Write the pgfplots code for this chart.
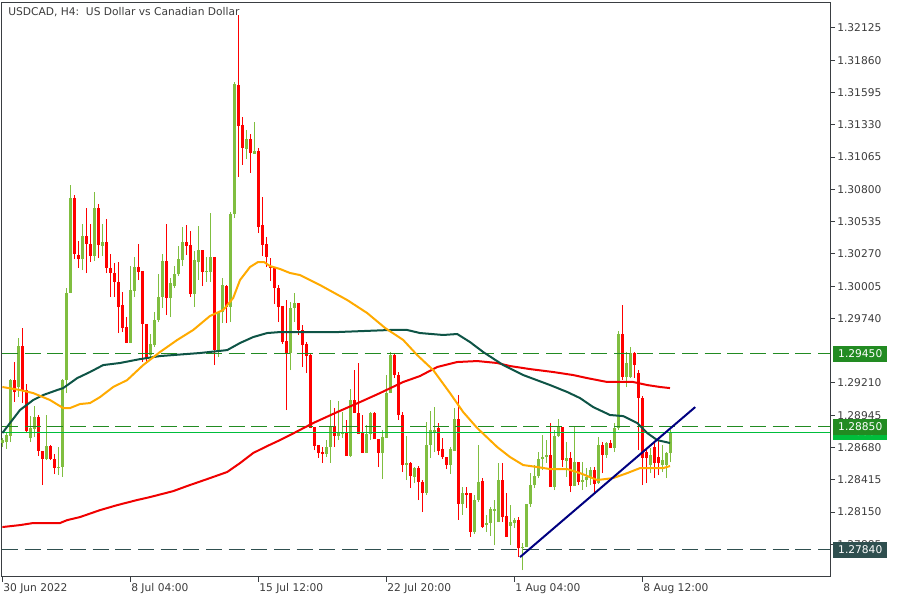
\documentclass[border=0pt]{standalone}
\usepackage{pgfplots}
\pgfplotsset{compat=1.18}
\usepackage{pgfplotstable}
\usepackage{fontspec}
\setmainfont{DejaVu Sans}

\definecolor{framegray}{RGB}{58,62,66}
\definecolor{labelgray}{RGB}{60,60,60}
\definecolor{candup}{RGB}{128,190,64}
\definecolor{canddown}{RGB}{255,0,0}
\definecolor{maorange}{RGB}{255,170,0}
\definecolor{mateal}{RGB}{14,84,70}
\definecolor{mared}{RGB}{240,0,0}
\definecolor{lvlgreen}{RGB}{34,139,34}
\definecolor{lvldark}{RGB}{47,79,79}
\definecolor{pricegreen}{RGB}{0,190,60}
\definecolor{trendnavy}{RGB}{0,0,128}

% H4 candles, bar index i (0 = 30 Jun 2022), open high low close
\pgfplotstableread{
i o h l c
0 1.28717 1.28758 1.28684 1.28741
1 1.28725 1.28799 1.28668 1.28782
2 1.28774 1.29242 1.28725 1.29234
4 1.29176 1.29579 1.29094 1.29513
7 1.28758 1.28939 1.28725 1.28840
8 1.28832 1.29021 1.28766 1.28930
11 1.28585 1.28947 1.28577 1.28692
14 1.28512 1.28684 1.28454 1.28520
15 1.28520 1.29242 1.28438 1.29234
16 1.29234 1.29989 1.29127 1.29948
17 1.29948 1.30836 1.29948 1.30729
20 1.30227 1.30515 1.30137 1.30416
23 1.30252 1.30778 1.30211 1.30646
25 1.30334 1.30515 1.30252 1.30367
32 1.29538 1.30170 1.29538 1.29973
33 1.29965 1.30244 1.29915 1.30162
37 1.29439 1.29612 1.29415 1.29530
38 1.29521 1.29792 1.29505 1.29727
39 1.29727 1.30104 1.29710 1.29915
40 1.29915 1.30269 1.29825 1.30211
42 1.29907 1.30071 1.29751 1.30030
43 1.30006 1.30170 1.29989 1.30104
44 1.30104 1.30334 1.30088 1.30227
45 1.30219 1.30490 1.30170 1.30367
48 1.29940 1.30293 1.29834 1.30219
49 1.30203 1.30498 1.30055 1.30301
51 1.30121 1.30244 1.30039 1.30129
52 1.30121 1.30605 1.30039 1.30244
54 1.29480 1.29792 1.29423 1.29792
55 1.29792 1.30071 1.29702 1.30014
57 1.29834 1.30613 1.29710 1.30597
58 1.30597 1.31682 1.30564 1.31665
61 1.31132 1.31288 1.31049 1.31214
63 1.31091 1.31353 1.31091 1.31115
72 1.29456 1.29875 1.29316 1.29825
73 1.29825 1.29948 1.29710 1.29866
81 1.28627 1.28741 1.28602 1.28684
82 1.28684 1.29070 1.28553 1.28848
84 1.28774 1.29062 1.28741 1.28799
85 1.28791 1.28971 1.28758 1.28807
87 1.28610 1.29160 1.28602 1.29070
91 1.28635 1.28865 1.28635 1.28791
92 1.28791 1.28971 1.28741 1.28963
95 1.28635 1.28824 1.28421 1.28766
96 1.28758 1.29275 1.28758 1.29127
97 1.29127 1.29464 1.29127 1.29439
101 1.28536 1.28774 1.28413 1.28553
103 1.28438 1.28520 1.28388 1.28512
106 1.28306 1.28889 1.28290 1.28700
107 1.28700 1.28980 1.28594 1.28824
108 1.28807 1.29012 1.28643 1.28824
112 1.28536 1.28684 1.28462 1.28668
113 1.28651 1.29004 1.28651 1.28914
115 1.28216 1.28356 1.28126 1.28306
118 1.27986 1.28290 1.27970 1.28249
119 1.28249 1.28700 1.28233 1.28397
121 1.28044 1.28126 1.27986 1.28060
122 1.28060 1.28192 1.27953 1.28175
123 1.28159 1.28249 1.27879 1.28175
124 1.28068 1.28553 1.28068 1.28413
127 1.28036 1.28208 1.27879 1.28068
128 1.28060 1.28101 1.28019 1.28085
130 1.27855 1.27896 1.27674 1.27863
131 1.27863 1.28216 1.27863 1.28216
132 1.28216 1.28471 1.28192 1.28372
133 1.28372 1.28536 1.28347 1.28446
134 1.28446 1.28643 1.28429 1.28585
135 1.28585 1.28783 1.28495 1.28602
136 1.28602 1.28741 1.28553 1.28618
138 1.28356 1.28824 1.28331 1.28774
139 1.28774 1.28914 1.28766 1.28857
141 1.28569 1.28725 1.28438 1.28594
143 1.28364 1.28848 1.28364 1.28561
145 1.28397 1.28561 1.28331 1.28413
146 1.28413 1.28512 1.28356 1.28438
147 1.28438 1.28520 1.28372 1.28495
149 1.28388 1.28766 1.28380 1.28700
151 1.28618 1.28725 1.28594 1.28717
153 1.28676 1.28881 1.28643 1.28840
154 1.28840 1.29636 1.28824 1.29612
156 1.29259 1.29464 1.29176 1.29374
157 1.29259 1.29505 1.29250 1.29456
162 1.28536 1.28676 1.28470 1.28618
165 1.28536 1.28700 1.28479 1.28577
166 1.28536 1.28643 1.28429 1.28635
167 1.28635 1.28824 1.28561 1.28807
}\up

\pgfplotstableread{
i o h l c
3 1.29234 1.29382 1.29054 1.29135
5 1.29513 1.29661 1.29045 1.29152
6 1.29152 1.29201 1.28807 1.28815
9 1.28930 1.28947 1.28610 1.28651
10 1.28651 1.28651 1.28372 1.28585
12 1.28692 1.28700 1.28577 1.28585
13 1.28585 1.28627 1.28462 1.28512
18 1.30729 1.30754 1.30227 1.30269
19 1.30260 1.30375 1.30154 1.30227
21 1.30416 1.30646 1.30112 1.30351
22 1.30351 1.30515 1.30203 1.30252
24 1.30646 1.30679 1.30236 1.30342
26 1.30367 1.30556 1.30112 1.30154
27 1.30154 1.30269 1.29915 1.30112
28 1.30112 1.30195 1.29915 1.30039
29 1.30039 1.30203 1.29620 1.29834
30 1.29850 1.29956 1.29628 1.29661
31 1.29669 1.29751 1.29538 1.29538
34 1.30162 1.30351 1.30055 1.30121
35 1.30129 1.30129 1.29382 1.29694
36 1.29694 1.29694 1.29374 1.29415
41 1.30211 1.30515 1.29768 1.29907
46 1.30367 1.30507 1.30260 1.30334
47 1.30342 1.30457 1.29915 1.29940
50 1.30301 1.30301 1.30006 1.30121
53 1.30244 1.30244 1.29357 1.29480
56 1.30006 1.30014 1.29702 1.29834
59 1.31657 1.32232 1.30902 1.31320
60 1.31329 1.31394 1.31000 1.31140
62 1.31214 1.31255 1.30935 1.31099
64 1.31115 1.31140 1.30441 1.30490
65 1.30507 1.30737 1.30252 1.30342
66 1.30351 1.30408 1.30162 1.30244
67 1.30170 1.30236 1.30047 1.30154
68 1.30162 1.30162 1.29858 1.29989
69 1.29989 1.30014 1.29710 1.29834
70 1.29842 1.29842 1.29530 1.29546
71 1.29554 1.29891 1.28988 1.29456
74 1.29866 1.29866 1.29604 1.29645
75 1.29645 1.29686 1.29341 1.29521
76 1.29530 1.29546 1.29291 1.29431
77 1.29439 1.29456 1.28840 1.28840
78 1.28848 1.28848 1.28659 1.28692
79 1.28700 1.28700 1.28594 1.28635
80 1.28643 1.28684 1.28553 1.28627
83 1.28857 1.29004 1.28684 1.28774
86 1.28807 1.28906 1.28610 1.28610
88 1.29070 1.29316 1.28963 1.28963
89 1.28963 1.29374 1.28791 1.28791
90 1.28799 1.28947 1.28635 1.28635
93 1.28963 1.28971 1.28750 1.28750
94 1.28750 1.28750 1.28520 1.28635
98 1.29439 1.29456 1.29250 1.29275
99 1.29275 1.29300 1.28906 1.28947
100 1.28947 1.28971 1.28479 1.28536
102 1.28553 1.28561 1.28347 1.28446
104 1.28512 1.28528 1.28249 1.28397
105 1.28397 1.28413 1.28150 1.28306
109 1.28840 1.28881 1.28618 1.28651
110 1.28668 1.28758 1.28585 1.28602
111 1.28602 1.28602 1.28503 1.28536
114 1.28914 1.29111 1.28085 1.28216
116 1.28306 1.28356 1.28183 1.28290
117 1.28306 1.28306 1.27945 1.27986
120 1.28405 1.28429 1.28019 1.28027
125 1.28413 1.28553 1.28068 1.28109
126 1.28118 1.28306 1.27945 1.27945
129 1.28085 1.28109 1.27781 1.27855
137 1.28618 1.28881 1.28356 1.28356
140 1.28848 1.28848 1.28520 1.28577
142 1.28594 1.28643 1.28314 1.28364
144 1.28561 1.28561 1.28372 1.28397
148 1.28495 1.28520 1.28298 1.28380
150 1.28700 1.28725 1.28470 1.28618
152 1.28717 1.28741 1.28676 1.28676
155 1.29612 1.29850 1.29234 1.29259
158 1.29456 1.29464 1.29250 1.29357
159 1.29291 1.29316 1.28659 1.29086
160 1.29086 1.29103 1.28372 1.28594
161 1.28643 1.28659 1.28388 1.28594
163 1.28684 1.28725 1.28429 1.28553
164 1.28602 1.28741 1.28454 1.28553
}\down

% moving averages
\pgfplotstableread{
i p
0 1.29177
4.4 1.29152
7.7 1.29127
11.9 1.29070
15.2 1.29004
16.9 1.29004
19.4 1.29037
21.9 1.29045
24.4 1.29094
27.7 1.29177
31.2 1.29234
35.2 1.29357
39.4 1.29464
43.7 1.29563
47.7 1.29645
51.9 1.29760
55.2 1.29809
57.7 1.29908
59.4 1.30055
61.9 1.30162
63.9 1.30203
65.4 1.30203
66.9 1.30170
69.4 1.30146
71.9 1.30113
74.4 1.30096
79.4 1.30014
86.2 1.29891
91.2 1.29784
95.7 1.29661
100.2 1.29563
103.7 1.29439
107.7 1.29316
111.9 1.29127
115.2 1.28971
118.7 1.28840
123.7 1.28684
126.9 1.28602
130.2 1.28536
133.7 1.28520
136.9 1.28503
141.2 1.28503
144.4 1.28470
148.7 1.28413
152.7 1.28429
156.2 1.28470
159.4 1.28511
162.7 1.28511
165.2 1.28511
166.9 1.28528
}\maorange

\pgfplotstableread{
i p
0 1.28799
1.9 1.28881
4.4 1.28988
7.7 1.29070
10.2 1.29111
13.7 1.29152
15.2 1.29168
18.7 1.29250
21.9 1.29300
25.2 1.29357
29.4 1.29374
34.4 1.29406
39.4 1.29431
49.4 1.29456
56.2 1.29480
59.4 1.29538
62.7 1.29587
66.2 1.29620
69.4 1.29628
83.7 1.29628
96.9 1.29645
101.2 1.29645
104.4 1.29620
110.2 1.29604
113.7 1.29612
116.9 1.29546
120.2 1.29464
125.2 1.29357
130.2 1.29275
136.9 1.29193
141.2 1.29136
144.4 1.29086
147.7 1.29012
151.9 1.28947
155.2 1.28938
158.7 1.28881
161.2 1.28799
163.7 1.28741
166.9 1.28717
}\mateal

\pgfplotstableread{
i p
0 1.28027
4.4 1.28043
7.7 1.28060
14.4 1.28060
16.2 1.28084
19.4 1.28109
24.4 1.28166
28.7 1.28207
33.7 1.28249
36.9 1.28273
42.7 1.28322
46.2 1.28364
51.2 1.28421
56.2 1.28479
59.4 1.28552
62.7 1.28635
66.2 1.28692
69.4 1.28741
71.9 1.28782
77.7 1.28881
83.7 1.28971
89.4 1.29053
94.4 1.29127
100.2 1.29218
104.4 1.29267
108.7 1.29341
113.7 1.29382
118.7 1.29390
123.7 1.29374
126.9 1.29349
131.9 1.29324
137.7 1.29300
142.7 1.29275
146.2 1.29250
151.2 1.29218
157.7 1.29218
161.2 1.29193
164.4 1.29177
166.9 1.29168
}\mared

\begin{document}
\begin{tikzpicture}
\begin{axis}[
  set layers,
  scale only axis,
  width=621pt, height=430.5pt,
  xmin=-0.1, xmax=206.9,
  ymin=1.27621, ymax=1.32334,
  clip=false,
  axis line style={draw=framegray, line width=0.75pt},
  tick align=outside,
  xtick pos=bottom, ytick pos=right,
  yticklabel pos=right,
  major tick length=3.75pt,
  tick style={draw=framegray, line width=0.75pt},
  minor tick num=0,
  scaled y ticks=false,
  xtick={0,32,64,96,128,160},
  xticklabels={30 Jun 2022, 8 Jul 04:00, 15 Jul 12:00, 22 Jul 20:00, 1 Aug 04:00, 8 Aug 12:00},
  ytick={1.27885,1.28150,1.28415,1.28680,1.28945,1.29210,1.29740,1.30005,1.30270,1.30535,1.30800,1.31065,1.31330,1.31595,1.31860,1.32125},
  yticklabels={1.27885,1.28150,1.28415,1.28680,1.28945,1.29210,1.29740,1.30005,1.30270,1.30535,1.30800,1.31065,1.31330,1.31595,1.31860,1.32125},
  ticklabel style={font=\fontsize{8}{9.6}\selectfont, text=labelgray},
  xticklabel style={anchor=north west, inner sep=0pt, xshift=0.5pt, yshift=-1pt},
  yticklabel style={anchor=west, inner sep=0pt, xshift=1.5pt},
]

% wicks
\addplot[candup, line width=0.75pt, quiver={u=0, v=\thisrow{h}-\thisrow{l}}] table[x=i, y=l] {\up};
\addplot[canddown, line width=0.75pt, quiver={u=0, v=\thisrow{h}-\thisrow{l}}] table[x=i, y=l] {\down};
% bodies
\addplot[candup, line width=2.25pt, quiver={u=0, v=\thisrow{c}-\thisrow{o}}] table[x=i, y=o] {\up};
\addplot[canddown, line width=2.25pt, quiver={u=0, v=\thisrow{c}-\thisrow{o}}] table[x=i, y=o] {\down};

% levels
\addplot[lvlgreen, line width=0.75pt, dash pattern=on 12pt off 5pt] coordinates {(-0.1,1.29450) (206.9,1.29450)};
\addplot[lvlgreen, line width=0.75pt, dash pattern=on 12pt off 5pt] coordinates {(-0.1,1.28850) (206.9,1.28850)};
\addplot[lvldark, line width=0.75pt, dash pattern=on 12pt off 5pt] coordinates {(-0.1,1.27840) (206.9,1.27840)};
\addplot[pricegreen, line width=0.75pt] coordinates {(-0.1,1.28807) (206.9,1.28807)};

% moving averages
\addplot[mared, line width=1.5pt] table[x=i, y=p] {\mared};
\addplot[mateal, line width=1.5pt] table[x=i, y=p] {\mateal};
\addplot[maorange, line width=1.5pt] table[x=i, y=p] {\maorange};

% trend line
\addplot[trendnavy, line width=1.5pt] coordinates {(129.4,1.27780) (173.2,1.29012)};

\node[anchor=west, inner sep=0pt, font=\fontsize{8}{9.6}\selectfont, text=labelgray,
  xshift=4.5pt, yshift=-7pt] at (rel axis cs:0,1) {USDCAD, H4:\ \ US Dollar vs Canadian Dollar};

% price labels on the right scale
\tikzset{pricebox/.style={anchor=west, inner sep=0pt, minimum width=40.5pt, minimum height=12pt,
  text=white, font=\fontsize{8}{9.6}\selectfont, xshift=2.25pt}}
\node[pricebox, fill=pricegreen] at (axis cs:206.9,1.28807) {1.28807};
\node[pricebox, fill=lvlgreen] at (axis cs:206.9,1.29450) {1.29450};
\node[pricebox, fill=lvlgreen] at (axis cs:206.9,1.28850) {1.28850};
\node[pricebox, fill=lvldark] at (axis cs:206.9,1.27840) {1.27840};
\end{axis}
\pgfresetboundingbox
\path[use as bounding box] (-1.5pt,-17.625pt) rectangle (673.5pt,432.375pt);
\end{tikzpicture}
\end{document}
